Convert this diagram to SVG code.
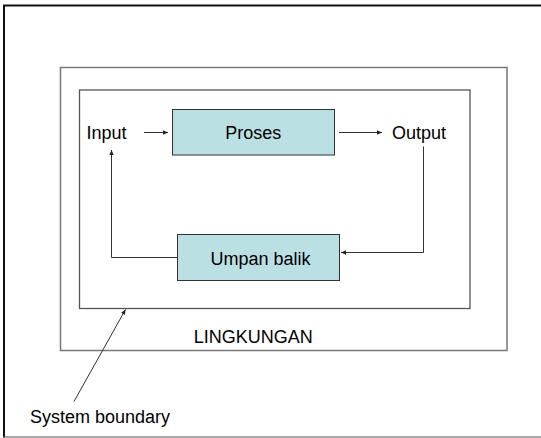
<svg xmlns="http://www.w3.org/2000/svg" width="541" height="438" viewBox="0 0 541 438">
<style>
text{font-family:"Liberation Sans",Arial,sans-serif;font-size:18px;fill:#000}
.box{fill:#bbe0e3;stroke:#333;stroke-width:1}
.con{fill:none;stroke:#333;stroke-width:1}
</style>
<defs>
<marker id="ah" markerWidth="6" markerHeight="6" refX="5" refY="3" orient="auto" markerUnits="userSpaceOnUse">
<path d="M0,0.8 L5,3 L0,5.2 Z" fill="#222"/>
</marker>
</defs>
<rect width="541" height="438" fill="#fff"/>
<g id="frame">
<line x1="3" y1="5.5" x2="541" y2="5.5" stroke="#111" stroke-width="2"/>
<line x1="4" y1="5" x2="4" y2="437.5" stroke="#111" stroke-width="2"/>
<line x1="3" y1="437" x2="541" y2="437" stroke="#555" stroke-width="1.2"/>
</g>
<g id="lingkungan">
<rect x="60.5" y="67.5" width="446.5" height="283" fill="none" stroke="#777" stroke-width="1.5"/>
<text x="253.3" y="343" text-anchor="middle">LINGKUNGAN</text>
</g>
<g id="system">
<rect x="79.5" y="90" width="390.5" height="218.5" fill="none" stroke="#555" stroke-width="1.3"/>
</g>
<g id="input"><text x="106.5" y="139" text-anchor="middle">Input</text></g>
<g id="output"><text x="419" y="139" text-anchor="middle">Output</text></g>
<g id="proses">
<rect class="box" x="172.5" y="109.5" width="162" height="45.5"/>
<text x="253.3" y="139.3" text-anchor="middle">Proses</text>
</g>
<g id="umpan-balik">
<rect class="box" x="177.5" y="234.5" width="162" height="46"/>
<text x="260.5" y="265" text-anchor="middle">Umpan balik</text>
</g>
<g id="label-boundary"><text x="30" y="422.5">System boundary</text></g>
<g id="connectors">
<line class="con" x1="144" y1="132.5" x2="168" y2="132.5" marker-end="url(#ah)"/>
<line class="con" x1="339" y1="132.5" x2="382" y2="132.5" marker-end="url(#ah)"/>
<polyline class="con" points="423.5,146.5 423.5,252.5 341,252.5" marker-end="url(#ah)"/>
<polyline class="con" points="177,257.5 111.5,257.5 111.5,150" marker-end="url(#ah)"/>
<line class="con" x1="74" y1="401.5" x2="125.5" y2="309.5" marker-end="url(#ah)"/>
</g>
</svg>
